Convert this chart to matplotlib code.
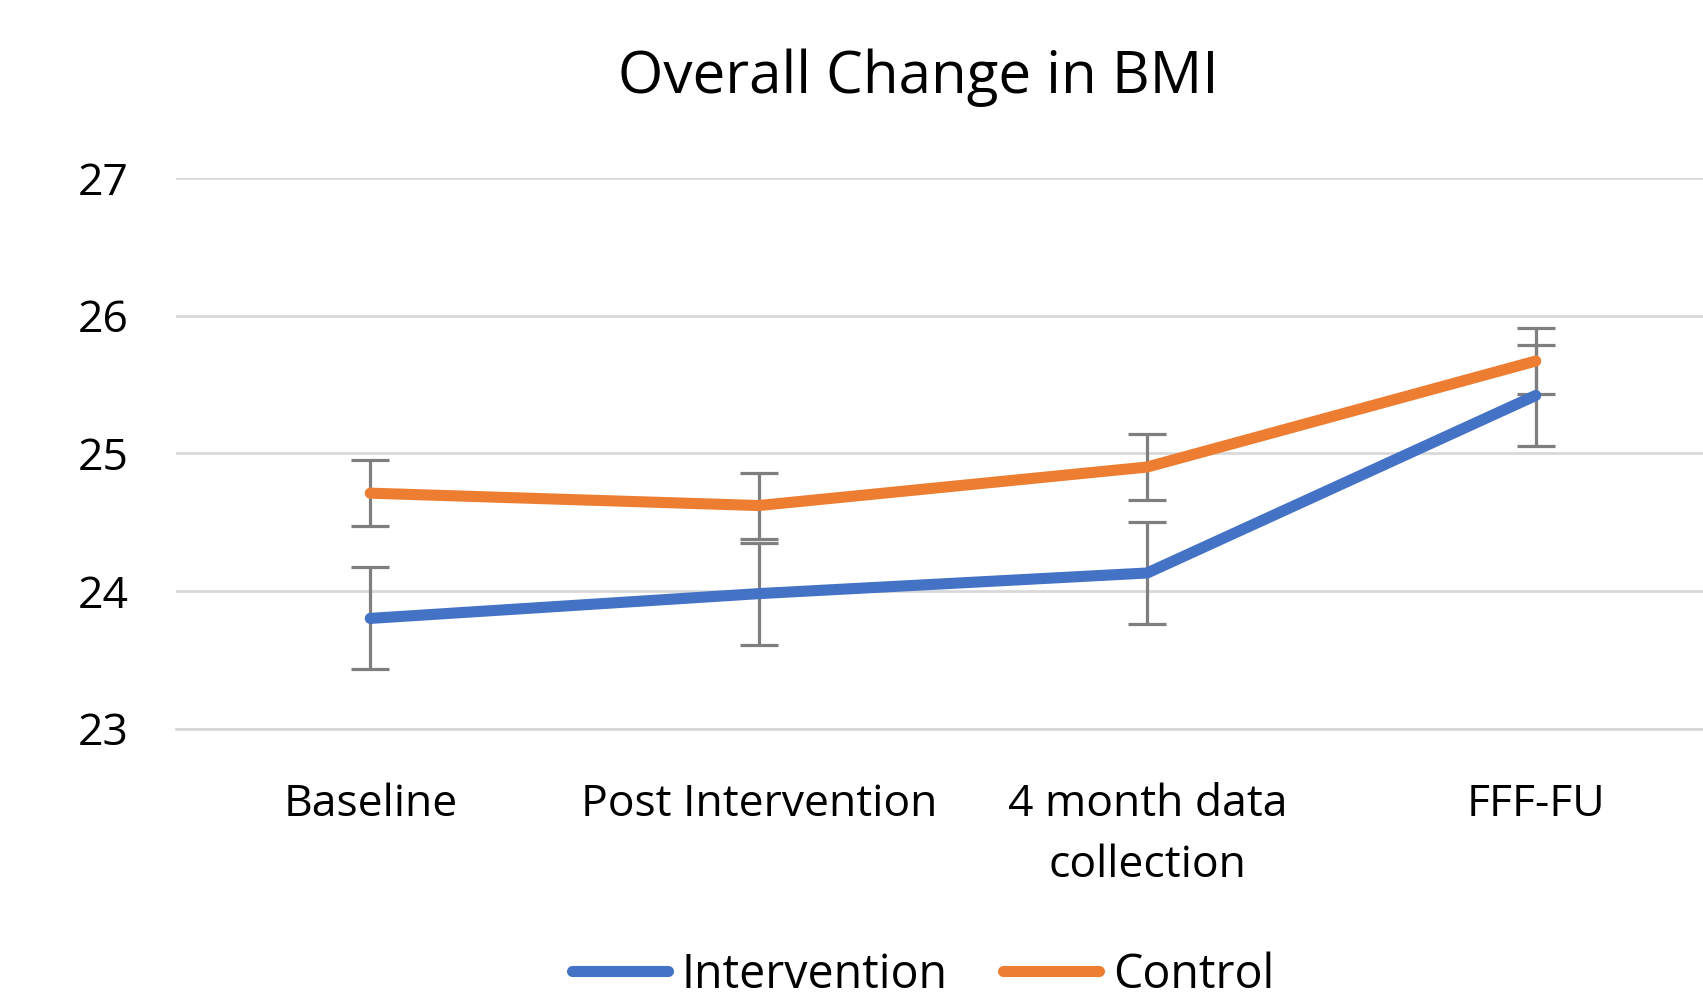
import matplotlib
matplotlib.use("Agg")
import matplotlib.pyplot as plt
from matplotlib.lines import Line2D
import numpy as np

categories = ["Baseline", "Post Intervention", "4 month data\ncollection", "FFF-FU"]
intervention = [23.80, 23.98, 24.13, 25.42]
control = [24.71, 24.62, 24.90, 25.67]
intervention_err = [0.37, 0.37, 0.37, 0.37]
control_err = [0.24, 0.24, 0.24, 0.24]
yticks = [23, 24, 25, 26, 27]

plt.rcParams['font.family'] = ['Open Sans', 'DejaVu Sans']

W, H = 1703, 998
fig = plt.figure(figsize=(W / 100, H / 100), dpi=100)
left = 176 / W
right = 1730 / W
bottom = (H - 728.5) / H
top = (H - 178) / H
ax = fig.add_axes([left, bottom, right - left, top - bottom])

x = np.arange(len(categories))
ax.errorbar(x, intervention, yerr=intervention_err, color="#4472C4", lw=8,
            ecolor="#7F7F7F", elinewidth=2.3, capsize=14, capthick=2.3,
            label="Intervention", solid_capstyle="round", zorder=3)
ax.errorbar(x, control, yerr=control_err, color="#ED7D31", lw=8,
            ecolor="#7F7F7F", elinewidth=2.3, capsize=14, capthick=2.3,
            label="Control", solid_capstyle="round", zorder=3)

ax.set_xlim(-0.5, 3.5)
ax.set_ylim(23, 27)
ax.set_yticks(yticks)
ax.set_yticklabels([str(v) for v in yticks])
ax.set_xticks(x)
ax.set_xticklabels(categories, linespacing=1.5)
ax.grid(axis="y", color="#D9D9D9", lw=2)
ax.set_axisbelow(True)
for s in ["top", "right", "left"]:
    ax.spines[s].set_visible(False)
ax.spines["bottom"].set_color("#D9D9D9")
ax.spines["bottom"].set_linewidth(2)
ax.tick_params(axis="both", length=0, labelsize=32, colors="#000000")
ax.tick_params(axis="y", pad=34)
ax.tick_params(axis="x", pad=39)

fig.text(918 / W, 1 - 78 / H, "Overall Change in BMI", ha="center", va="center", fontsize=42)

h = [Line2D([0], [0], color="#4472C4", lw=8, solid_capstyle="round"),
     Line2D([0], [0], color="#ED7D31", lw=8, solid_capstyle="round")]
fig.legend(h, ["Intervention", "Control"], loc="center", bbox_to_anchor=(923 / W, 1 - 975 / H),
           ncol=2, frameon=False, fontsize=33.5, handlelength=2.05, handletextpad=0.3,
           columnspacing=1.2)

fig.savefig("out.png", dpi=100)
